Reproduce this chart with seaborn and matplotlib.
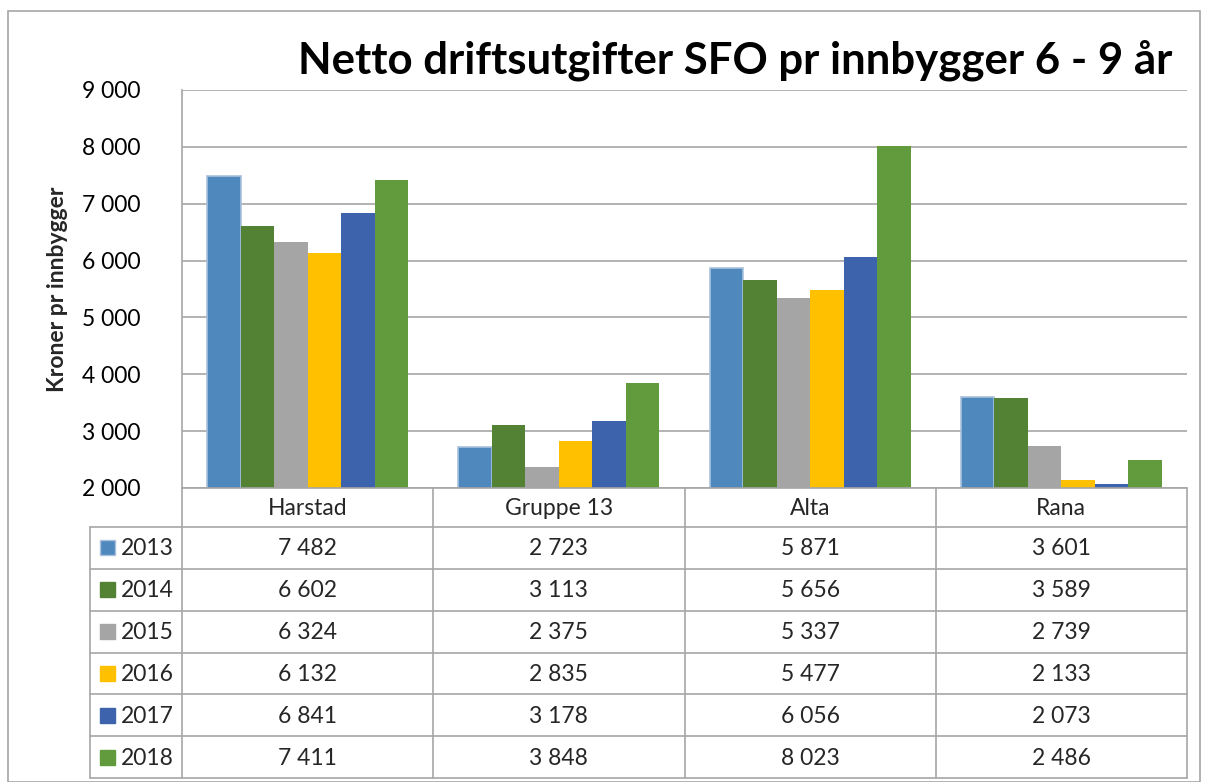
import numpy as np
import pandas as pd
import matplotlib
matplotlib.use("Agg")
import matplotlib.pyplot as plt
import seaborn as sns
from matplotlib.patches import Rectangle

# data
kommuner = ["Harstad", "Gruppe 13", "Alta", "Rana"]
aar = ["2013", "2014", "2015", "2016", "2017", "2018"]
v2013 = [7482, 2723, 5871, 3601]
v2014 = [6602, 3113, 5656, 3589]
v2015 = [6324, 2375, 5337, 2739]
v2016 = [6132, 2835, 5477, 2133]
v2017 = [6841, 3178, 6056, 2073]
v2018 = [7411, 3848, 8023, 2486]
farger = ["#4F88BD", "#548235", "#A5A5A5", "#FFC000", "#3C63AC", "#629B3E"]
y_ticks = [2000, 3000, 4000, 5000, 6000, 7000, 8000, 9000]

serier = [v2013, v2014, v2015, v2016, v2017, v2018]
rows = []
for a, s in zip(aar, serier):
    for k, v in zip(kommuner, s):
        rows.append({"Kommune": k, "År": a, "Verdi": v})
df = pd.DataFrame(rows)

def fmt(v):
    return f"{v:,}".replace(",", " ")

sns.set_theme(style="white")
plt.rcParams["font.family"] = ["Lato", "DejaVu Sans"]

W, H = 1207, 782
fig = plt.figure(figsize=(W / 100, H / 100), dpi=100)

def px_axes(x0, y0, x1, y1):
    return fig.add_axes([x0 / W, 1 - y1 / H, (x1 - x0) / W, (y1 - y0) / H])

fs = 16.5

# outer frame
fig.patches.append(Rectangle((8 / W, 0), (1200 - 8) / W, 1 - 11 / H, transform=fig.transFigure,
                             fill=False, edgecolor="#A6A6A6", linewidth=1.2))

# bar axes
ax = px_axes(182, 90, 1187, 488)
sns.barplot(data=df, x="Kommune", y="Verdi", hue="År", palette=farger, width=0.8,
            ax=ax, legend=False, saturation=1, linewidth=0)
for bar in ax.patches[:4]:
    bar.set_edgecolor("#A9C1DC")
    bar.set_linewidth(1.2)
ax.set_ylim(2000, 9000)
ax.set_xlim(-0.5, 3.5)
ax.set_yticks(y_ticks)
ax.set_yticklabels([fmt(t) for t in y_ticks], fontsize=fs, color="black")
ax.tick_params(axis="y", length=0, pad=30)
ax.set_xticks([])
ax.set_xlabel("")
ax.set_ylabel("Kroner pr innbygger", fontsize=16.5, fontweight="bold", labelpad=10)
ax.grid(axis="y", color="#A6A6A6", linewidth=1.2)
ax.set_axisbelow(True)
for side in ["top", "right", "bottom"]:
    ax.spines[side].set_visible(False)
ax.spines["left"].set_color("#A6A6A6")
ax.spines["left"].set_linewidth(1.2)
ax.set_facecolor("none")

# title
fig.text(1172 / W, 1 - 60 / H, "Netto driftsutgifter SFO pr innbygger 6 - 9 år",
         ha="right", va="center", fontsize=31.5, fontweight="bold", color="black")

# data table
cat_w = (1187 - 182) / 4
left_units = -0.5 - (182 - 90) / cat_w
tab = px_axes(90, 488, 1187, 778)
tab.set_xlim(left_units, 3.5)
tab.set_ylim(778 - 488, 0)
tab.axis("off")
lc = "#A6A6A6"
head_h = 527 - 488
row_h = (778 - 527) / 6
# linjer
tab.plot([-0.5, 3.5], [0, 0], color=lc, lw=1.2, clip_on=False)
for i in range(7):
    y = head_h + i * row_h
    tab.plot([left_units, 3.5], [y, y], color=lc, lw=1.2, clip_on=False)
for j in range(5):
    x = -0.5 + j
    tab.plot([x, x], [0, 778 - 488], color=lc, lw=1.2, clip_on=False)
tab.plot([left_units, left_units], [head_h, 778 - 488], color=lc, lw=1.2, clip_on=False)
# header
for j, k in enumerate(kommuner):
    tab.text(j, head_h / 2 + 1, k, ha="center", va="center", fontsize=fs)
# rader
sq = 15 / cat_w
for i, (a, s, c) in enumerate(zip(aar, serier, farger)):
    yc = head_h + (i + 0.5) * row_h
    x0 = left_units + 10 / cat_w
    tab.add_patch(Rectangle((x0, yc - 7.5), sq, 15, facecolor=c,
                            edgecolor="#A9C1DC" if i == 0 else c, lw=1, clip_on=False))
    tab.text(left_units + 31 / cat_w, yc + 1, a, ha="left", va="center", fontsize=fs)
    for j, v in enumerate(s):
        tab.text(j, yc + 1, fmt(v), ha="center", va="center", fontsize=fs)

fig.savefig("out.png", dpi=100)
